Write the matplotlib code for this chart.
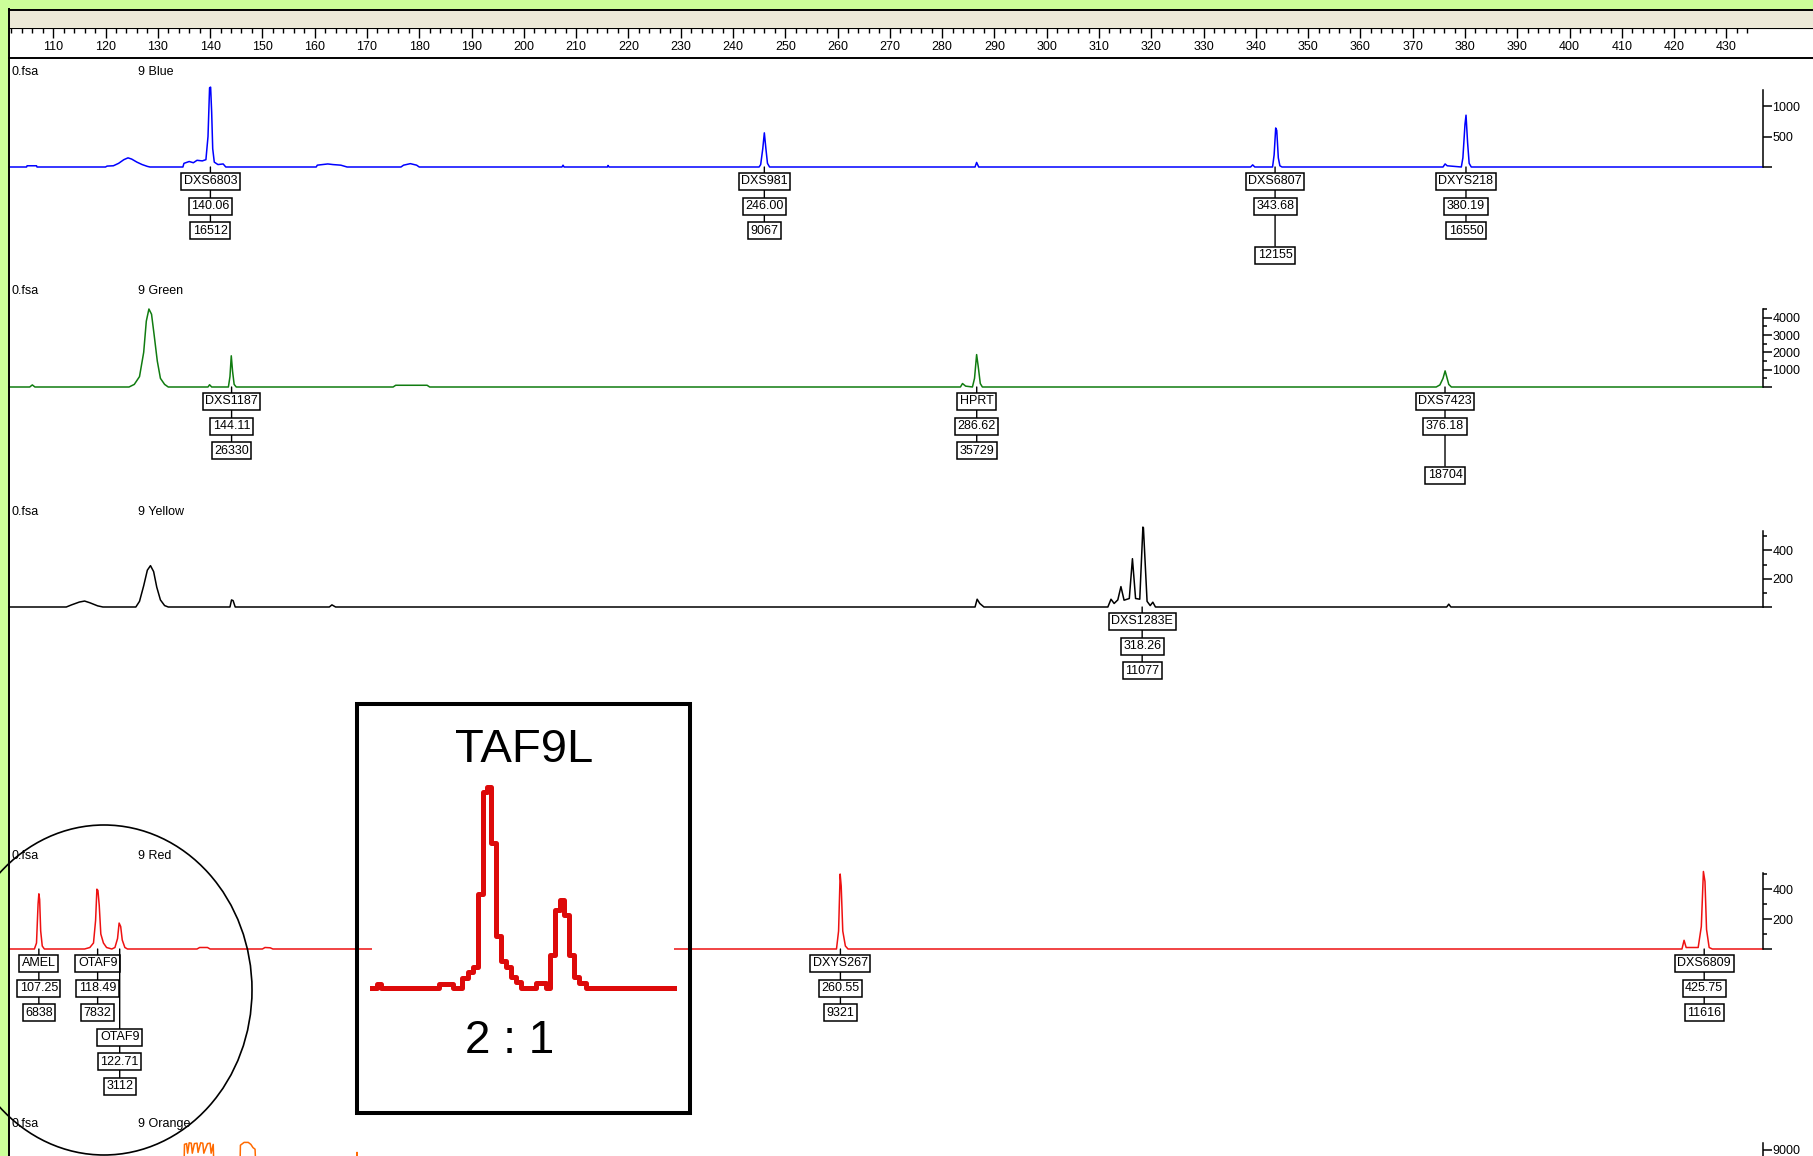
import matplotlib
matplotlib.use('Agg')
import matplotlib.pyplot as plt
from matplotlib.patches import Rectangle, Ellipse
from matplotlib.lines import Line2D

plt.rcParams['font.family'] = ['Liberation Sans', 'DejaVu Sans']

# ---- data (size in bp, height in RFU) ----
blue_bp = [101.6, 104.9, 105.0, 106.8, 106.9, 120.0, 120.3, 121.5, 122.5, 123.5, 124.3, 125.0, 126.0, 127.0,
           128.0, 128.5, 134.8, 135.0, 136.0, 136.8, 137.5, 138.5, 139.2, 139.6, 139.9, 140.1, 140.3, 140.5,
           140.8, 141.5, 142.5, 143.0, 160.3, 160.5, 162.5, 163.5, 165.0, 166.2, 176.5, 177.0, 178.3, 179.5,
           180.0, 207.3, 207.5, 207.7, 216.0, 216.1, 216.3, 245.0, 245.3, 245.7, 246.0, 246.3, 246.6, 247.0,
           286.3, 286.6, 287.0, 339.0, 339.4, 339.8, 343.2, 343.5, 343.8, 344.0, 344.3, 344.6, 345.0, 375.8,
           376.2, 376.6, 379.3, 379.6, 380.0, 380.2, 380.5, 380.8, 381.2, 436.94]
blue_rfu = [0, 0, 20, 20, 0, 0, 15, 20, 60, 120, 150, 130, 80, 40,
            10, 0, 0, 60, 90, 70, 110, 100, 120, 500, 1300, 1310, 900, 300,
            80, 40, 50, 0, 0, 30, 50, 40, 30, 0, 0, 30, 55, 30,
            0, 0, 30, 0, 0, 25, 0, 0, 40, 300, 560, 300, 60, 0,
            0, 75, 0, 0, 35, 0, 0, 200, 640, 600, 150, 20, 0, 0,
            50, 20, 0, 150, 700, 850, 400, 60, 0, 0]

green_bp = [101.6, 105.5, 106.0, 106.5, 124.5, 125.5, 126.5, 127.3, 127.8, 128.3, 128.8, 129.3, 129.9, 130.5,
            131.3, 132.0, 139.6, 139.9, 140.3, 143.5, 143.8, 144.05, 144.3, 144.6, 145.0, 175.0, 175.5, 178.0,
            181.5, 182.0, 283.5, 283.9, 284.5, 285.8, 286.2, 286.6, 286.9, 287.3, 287.7, 374.5, 375.2, 375.8,
            376.2, 376.5, 376.9, 377.4, 436.94]
green_rfu = [0, 0, 120, 0, 0, 150, 600, 2000, 3800, 4500, 4200, 3000, 1500, 500,
             150, 0, 0, 130, 0, 0, 600, 1800, 900, 150, 0, 0, 100, 100,
             100, 0, 0, 200, 50, 0, 500, 1870, 1200, 200, 0, 0, 120, 500,
             930, 600, 150, 0, 0]

yellow_bp = [101.6, 112.5, 113.5, 115.0, 116.0, 117.0, 118.5, 119.5, 125.8, 126.5, 127.3, 128.0, 128.6, 129.2,
             129.8, 130.5, 131.3, 132.0, 143.8, 144.1, 144.4, 144.8, 162.8, 163.3, 164.0, 286.3, 286.7, 287.2,
             288.0, 311.7, 312.3, 312.9, 313.6, 314.2, 314.8, 315.8, 316.4, 317.0, 317.8, 318.4, 318.5, 319.2,
             319.8, 320.3, 320.8, 376.5, 376.9, 377.3, 436.94]
yellow_rfu = [0, 0, 15, 35, 42, 30, 8, 0, 0, 40, 150, 260, 292, 250,
              140, 50, 10, 0, 0, 50, 45, 0, 0, 15, 0, 0, 55, 25,
              0, 0, 55, 25, 50, 144, 48, 60, 341, 60, 55, 564, 560, 40,
              10, 34, 0, 0, 20, 0, 0]

red_bp = [101.6, 106.4, 106.8, 107.1, 107.25, 107.4, 107.6, 107.9, 108.3, 116.0, 117.0, 117.7, 118.1, 118.35,
          118.55, 118.8, 119.1, 119.6, 120.2, 121.2, 121.8, 122.3, 122.6, 122.9, 123.2, 123.7, 124.2, 137.5,
          138.0, 139.5, 140.0, 150.0, 150.5, 151.5, 152.0, 259.8, 260.2, 260.5, 260.7, 261.0, 261.5, 262.0,
          421.5, 421.9, 422.3, 424.6, 425.2, 425.6, 425.9, 426.2, 426.7, 427.3, 436.94]
red_rfu = [0, 0, 40, 300, 368, 330, 120, 20, 0, 0, 10, 40, 190, 399,
           390, 290, 100, 40, 10, 0, 10, 70, 173, 150, 60, 10, 0, 0,
           10, 10, 0, 0, 10, 8, 0, 0, 120, 500, 420, 120, 20, 0,
           0, 58, 10, 10, 150, 517, 450, 130, 10, 0, 0]

orange_bp = [101.6, 134.8, 135.1, 135.5, 135.7, 136.0, 136.4, 136.6, 137.0, 137.5, 137.7, 138.2, 138.6, 138.8,
             139.5, 140.0, 140.2, 140.6, 141.0, 145.5, 145.8, 146.5, 147.3, 147.8, 148.2, 148.6, 149.2, 167.8,
             168.1, 168.4, 436.94]
orange_rfu = [0, 0, 9700, 9800, 8600, 9900, 9850, 8600, 9800, 9850, 8700, 9900, 9850, 8600,
              9800, 9850, 8600, 9700, 0, 0, 9600, 9950, 9950, 9700, 9300, 9100, 0, 0,
              8700, 0, 0]

# called peaks: marker name, size (bp), area
blue_names = ['DXS6803', 'DXS981', 'DXS6807', 'DXYS218']
blue_sizes = [140.06, 246.00, 343.68, 380.19]
blue_areas = [16512, 9067, 12155, 16550]

green_names = ['DXS1187', 'HPRT', 'DXS7423']
green_sizes = [144.11, 286.62, 376.18]
green_areas = [26330, 35729, 18704]

yellow_names = ['DXS1283E']
yellow_sizes = [318.26]
yellow_areas = [11077]

red_names = ['AMEL', 'OTAF9', 'OTAF9', 'DXYS267', 'DXS6809']
red_sizes = [107.25, 118.49, 122.71, 260.55, 425.75]
red_areas = [6838, 7832, 3112, 9321, 11616]

# zoomed TAF9L region (step trace)
inset_bp = [111.70, 111.99, 112.24, 115.60, 116.41, 116.95, 117.28, 117.57, 117.86, 118.15, 118.39, 118.64,
            118.93, 119.22, 119.51, 119.80, 120.09, 120.38, 121.25, 121.84, 122.03, 122.32, 122.61, 122.84,
            123.13, 123.44, 123.73, 124.16, 129.26]
inset_rfu = [0, 9, 0, 9, 0, 21, 32, 43, 191, 398, 408, 294,
             106, 55, 43, 22, 12, 0, 10, 0, 66, 158, 178, 148,
             66, 22, 10, 0, 0]

ruler_major = list(range(110, 431, 10))
ruler_minor = list(range(102, 435, 2))

# ---- layout (pixels of the 1813x1156 picture) ----
W, H = 1813, 1156
X_LEFT, X_RIGHT = 101.54, 446.56
AXIS_BP = 436.94
ROW0, ROW_STEP = 10.4, 17.7


def fx(px):
    return px / W


def fy(py):
    return 1 - py / H


fig = plt.figure(figsize=(W / 100, H / 100), dpi=100)
fig.patch.set_facecolor('white')


def panel(baseline, top, per_px, color, xs, ys, major, labels, minor):
    h = top / per_px
    ax = fig.add_axes([fx(9), fy(baseline), 1 - fx(9), h / H])
    ax.set_xlim(X_LEFT, X_RIGHT)
    ax.set_ylim(0, top)
    ax.patch.set_visible(False)
    for s in ['top', 'bottom', 'left']:
        ax.spines[s].set_visible(False)
    ax.spines['right'].set_position(('data', AXIS_BP))
    ax.spines['right'].set_bounds(0, top)
    ax.spines['right'].set_linewidth(1.1)
    ax.xaxis.set_visible(False)
    ax.yaxis.tick_right()
    ax.set_yticks(major)
    ax.set_yticklabels(labels)
    ax.set_yticks(minor, minor=True)
    ax.tick_params(axis='y', which='major', direction='out', length=6.5, width=1.1, pad=0.5, labelsize=9)
    ax.tick_params(axis='y', which='minor', direction='out', length=3, width=1.1)
    ax.plot(xs, ys, color=color, lw=1.1, clip_on=False)
    return ax


def tag(ax, x, texts, rows):
    deepest = max(rows)
    for i in sorted(range(3), key=lambda k: -rows[k]):
        kw = dict(xy=(x, 0), xycoords='data', xytext=(0, -(ROW0 + ROW_STEP * rows[i])),
                  textcoords='offset points', ha='center', va='center', fontsize=9,
                  annotation_clip=False, zorder=5,
                  bbox=dict(boxstyle='square,pad=0.2', fc='white', ec='black', lw=1.1))
        if rows[i] == deepest:
            kw['arrowprops'] = dict(arrowstyle='-', lw=1.0, color='black', shrinkA=0, shrinkB=0)
        ax.annotate(texts[i], **kw)


# window frame: green border, beige header, ruler
fig.add_artist(Rectangle((0, 0), fx(8), 1, transform=fig.transFigure, color='#ccff99', lw=0))
fig.add_artist(Rectangle((0, fy(9)), 1, 9 / H, transform=fig.transFigure, color='#ccff99', lw=0))
fig.add_artist(Rectangle((fx(9), fy(28)), 1 - fx(9), 19 / H, transform=fig.transFigure,
                         color='#ece9d8', lw=0))
fig.add_artist(Line2D([fx(9), 1], [fy(9.5), fy(9.5)], transform=fig.transFigure, color='black', lw=1.4))
fig.add_artist(Line2D([fx(9), fx(9)], [0, fy(9)], transform=fig.transFigure, color='black', lw=1.4))

rul = fig.add_axes([fx(9), fy(58), 1 - fx(9), 30 / H])
rul.set_xlim(X_LEFT, X_RIGHT)
rul.set_ylim(0, 1)
rul.set_yticks([])
rul.xaxis.tick_top()
rul.set_xticks(ruler_major)
rul.set_xticks(ruler_minor, minor=True)
rul.tick_params(axis='x', which='major', direction='in', length=7, width=1, pad=-18, labelsize=9)
rul.tick_params(axis='x', which='minor', direction='in', length=3.5, width=1)
rul.spines['left'].set_visible(False)
rul.spines['right'].set_visible(False)
rul.spines['top'].set_linewidth(0.8)
rul.spines['bottom'].set_linewidth(1.4)

# dye panels
ax_b = panel(167, 1270, 16.4, '#0000ff', blue_bp, blue_rfu, [0, 500, 1000], ['', '500', '1000'], [])
ax_g = panel(387, 4500, 57.7, '#107c10', green_bp, green_rfu, [0, 1000, 2000, 3000, 4000],
             ['', '1000', '2000', '3000', '4000'], [500, 1500, 2500, 3500, 4500])
ax_y = panel(607, 540, 7.06, 'black', yellow_bp, yellow_rfu, [0, 200, 400], ['', '200', '400'], [100, 300, 500])
ax_r = panel(949, 505, 6.67, '#ee1111', red_bp, red_rfu, [0, 200, 400], ['', '200', '400'], [100, 300, 500])
ax_o = panel(1222, 9900, 125, '#ff6a00', orange_bp, orange_rfu, [0, 9000], ['', '9000'], [])

for ax, names, sizes, areas, rows in [
        (ax_b, blue_names, blue_sizes, blue_areas, [(0, 1, 2), (0, 1, 2), (0, 1, 3), (0, 1, 2)]),
        (ax_g, green_names, green_sizes, green_areas, [(0, 1, 2), (0, 1, 2), (0, 1, 3)]),
        (ax_y, yellow_names, yellow_sizes, yellow_areas, [(0, 1, 2)]),
        (ax_r, red_names, red_sizes, red_areas, [(0, 1, 2), (0, 1, 2), (3, 4, 5), (0, 1, 2), (0, 1, 2)])]:
    for n, s, a, r in zip(names, sizes, areas, rows):
        tag(ax, s, [n, '%.2f' % s, str(a)], r)

# panel captions
for ypx, dye in [(71.7, '9 Blue'), (291, '9 Green'), (512, '9 Yellow'), (855.6, '9 Red'), (1124, '9 Orange')]:
    fig.text(fx(11), fy(ypx), '0.fsa', fontsize=9, ha='left', va='center')
    fig.text(fx(137.6), fy(ypx), dye, fontsize=9, ha='left', va='center')

# TAF9L inset
ins = fig.add_axes([fx(372), fy(1113), fx(674) - fx(372), (1113 - 704) / H])
ins.set_zorder(5)
ins.set_facecolor('white')
ins.set_xlim(111.70, 129.26)
ins.set_ylim(-253.8, 576.5)
ins.set_xticks([])
ins.set_yticks([])
for s in ins.spines.values():
    s.set_visible(False)
ins.step(inset_bp, inset_rfu, where='post', color='#dd0a0a', lw=3.6, clip_on=False)
fig.add_artist(Rectangle((fx(357), fy(1113)), fx(690) - fx(357), (1113 - 704) / H,
                         transform=fig.transFigure, fill=False, ec='black', lw=2.9, zorder=10))
fig.text(fx(524), fy(761.7), 'TAF9L', fontsize=34, ha='center', va='baseline', zorder=11)
fig.text(fx(510), fy(1053), '2 : 1', fontsize=33, ha='center', va='baseline', zorder=11)

# circle round the AMEL / OTAF9 calls
fig.add_artist(Ellipse((fx(104), fy(990)), 296 / W, 330 / H, transform=fig.transFigure,
                       fill=False, ec='black', lw=1.2, zorder=10))

fig.savefig('out.png', dpi=100)
